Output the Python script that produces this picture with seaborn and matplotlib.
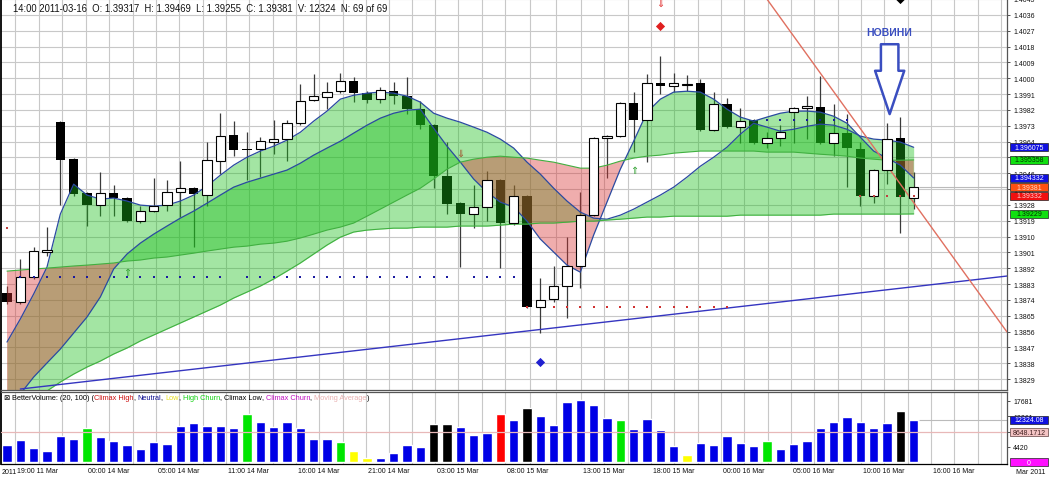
import numpy as np
import pandas as pd
import matplotlib
matplotlib.use('Agg')
import matplotlib.pyplot as plt
import matplotlib.transforms as mtrans
from matplotlib.patches import Rectangle
from matplotlib.offsetbox import TextArea, HPacker, AnchoredOffsetbox
import seaborn as sns

sns.set_theme(style='white')
plt.rcParams['font.family'] = ['Liberation Sans Narrow', 'Liberation Sans', 'DejaVu Sans']

# ---- hourly candles, 69 bars ----
opens = [1.38779, 1.38728, 1.38870, 1.39015, 1.39750, 1.39540, 1.39347, 1.39279, 1.39347, 1.39319,
         1.39188, 1.39245, 1.39279, 1.39353, 1.39375, 1.39336, 1.39529, 1.39676, 1.39597, 1.39597,
         1.39637, 1.39654, 1.39744, 1.39875, 1.39892, 1.39926, 1.39983, 1.39915, 1.39881, 1.39926,
         1.39898, 1.39824, 1.39733, 1.39444, 1.39290, 1.39228, 1.39268, 1.39421, 1.39177, 1.39330,
         1.38700, 1.38745, 1.38819, 1.38933, 1.39222, 1.39659, 1.39671, 1.39858, 1.39762, 1.39972,
         1.39955, 1.39963, 1.39972, 1.39705, 1.39852, 1.39722, 1.39762, 1.39631, 1.39659, 1.39807,
         1.39830, 1.39835, 1.39631, 1.39688, 1.39597, 1.39330, 1.39478, 1.39659, 1.39317]
highs = [1.38819, 1.38972, 1.39040, 1.39154, 1.39756, 1.39546, 1.39353, 1.39466, 1.39392, 1.39324,
         1.39273, 1.39432, 1.39421, 1.39529, 1.39381, 1.39637, 1.39801, 1.39756, 1.39693, 1.39665,
         1.39762, 1.39762, 1.39966, 1.40023, 1.39977, 1.40028, 1.40006, 1.39926, 1.39949, 1.39977,
         1.40006, 1.39869, 1.39739, 1.39637, 1.39296, 1.39392, 1.39472, 1.39427, 1.39392, 1.39336,
         1.38864, 1.38933, 1.39097, 1.39353, 1.39665, 1.39676, 1.39864, 1.39921, 1.40023, 1.40125,
         1.40028, 1.40017, 1.39994, 1.39921, 1.39886, 1.39830, 1.39767, 1.39693, 1.39733, 1.39835,
         1.39898, 1.40011, 1.39852, 1.39796, 1.39637, 1.39483, 1.39744, 1.39779, 1.39469]
lows = [1.38717, 1.38717, 1.38858, 1.38989, 1.39279, 1.39330, 1.39160, 1.39216, 1.39216, 1.39182,
        1.39177, 1.39239, 1.39245, 1.39211, 1.39040, 1.39273, 1.39455, 1.39557, 1.39421, 1.39438,
        1.39568, 1.39529, 1.39733, 1.39869, 1.39824, 1.39915, 1.39864, 1.39858, 1.39858, 1.39852,
        1.39796, 1.39710, 1.39375, 1.39228, 1.38927, 1.39148, 1.39188, 1.38921, 1.39165, 1.38694,
        1.38552, 1.38728, 1.38637, 1.38808, 1.39216, 1.39432, 1.39665, 1.39580, 1.39523, 1.39909,
        1.39921, 1.39926, 1.39699, 1.39699, 1.39716, 1.39631, 1.39625, 1.39603, 1.39614, 1.39631,
        1.39654, 1.39625, 1.39557, 1.39381, 1.39273, 1.39290, 1.39398, 1.39120, 1.39255]
closes = [1.38728, 1.38870, 1.39018, 1.39023, 1.39534, 1.39341, 1.39279, 1.39347, 1.39319, 1.39188,
          1.39245, 1.39273, 1.39353, 1.39375, 1.39341, 1.39534, 1.39671, 1.39591, 1.39591, 1.39642,
          1.39654, 1.39744, 1.39869, 1.39898, 1.39921, 1.39983, 1.39915, 1.39875, 1.39932, 1.39898,
          1.39824, 1.39733, 1.39444, 1.39285, 1.39228, 1.39268, 1.39421, 1.39177, 1.39330, 1.38700,
          1.38739, 1.38819, 1.38933, 1.39222, 1.39659, 1.39671, 1.39858, 1.39762, 1.39972, 1.39955,
          1.39972, 1.39966, 1.39705, 1.39852, 1.39722, 1.39756, 1.39631, 1.39659, 1.39693, 1.39830,
          1.39841, 1.39631, 1.39688, 1.39603, 1.39330, 1.39478, 1.39654, 1.39324, 1.39381]

# ---- ribbon lines (two fast, two slow) ----
line_a = [1.38501, 1.38632, 1.38774, 1.38927, 1.39228, 1.39398, 1.39336, 1.39313, 1.39319, 1.39302,
          1.39279, 1.39273, 1.39279, 1.39302, 1.39336, 1.39387, 1.39449, 1.39506, 1.39551, 1.39586,
          1.39614, 1.39648, 1.39693, 1.39756, 1.39813, 1.39881, 1.39903, 1.39915, 1.39921, 1.39915,
          1.39898, 1.39864, 1.39801, 1.39773, 1.39750, 1.39722, 1.39693, 1.39654, 1.39603, 1.39523,
          1.39455, 1.39375, 1.39302, 1.39239, 1.39205, 1.39199, 1.39222, 1.39256, 1.39296, 1.39336,
          1.39381, 1.39438, 1.39500, 1.39551, 1.39608, 1.39682, 1.39744, 1.39722, 1.39699, 1.39710,
          1.39727, 1.39739, 1.39733, 1.39710, 1.39671, 1.39654, 1.39648, 1.39637, 1.396075]
line_b = [1.38064, 1.38206, 1.38302, 1.38382, 1.38461, 1.38552, 1.38643, 1.38757, 1.38916, 1.39001,
          1.39063, 1.39114, 1.39160, 1.39205, 1.39245, 1.39290, 1.39336, 1.39381, 1.39409, 1.39432,
          1.39455, 1.39478, 1.39517, 1.39563, 1.39603, 1.39642, 1.39688, 1.39733, 1.39773, 1.39801,
          1.39818, 1.39824, 1.39716, 1.39614, 1.39523, 1.39427, 1.39353, 1.39296, 1.39268, 1.39188,
          1.39086, 1.39012, 1.38938, 1.38898, 1.39109, 1.39296, 1.39483, 1.39642, 1.39807, 1.39881,
          1.39921, 1.39926, 1.39921, 1.39881, 1.39824, 1.39779, 1.39756, 1.39779, 1.39801, 1.39813,
          1.39813, 1.39807, 1.39784, 1.39744, 1.39665, 1.39586, 1.39546, 1.39506, 1.394332]
line_c = [1.38904, 1.38910, 1.38916, 1.38921, 1.38927, 1.38933, 1.38938, 1.38944, 1.38950, 1.38961,
          1.38967, 1.38978, 1.38984, 1.38995, 1.39006, 1.39018, 1.39029, 1.39040, 1.39046, 1.39057,
          1.39063, 1.39074, 1.39092, 1.39114, 1.39137, 1.39154, 1.39177, 1.39216, 1.39256, 1.39296,
          1.39336, 1.39375, 1.39427, 1.39483, 1.39523, 1.39540, 1.39551, 1.39557, 1.39551, 1.39546,
          1.39534, 1.39523, 1.39506, 1.39489, 1.39489, 1.39506, 1.39529, 1.39546, 1.39557, 1.39563,
          1.39574, 1.39580, 1.39586, 1.39586, 1.39586, 1.39586, 1.39586, 1.39580, 1.39580, 1.39580,
          1.39574, 1.39568, 1.39563, 1.39557, 1.39546, 1.39540, 1.39534, 1.39534, 1.395358]
line_d = [1.37950, 1.38064, 1.38149, 1.38223, 1.38274, 1.38319, 1.38359, 1.38393, 1.38433, 1.38467,
          1.38507, 1.38541, 1.38575, 1.38609, 1.38643, 1.38677, 1.38711, 1.38751, 1.38785, 1.38819,
          1.38859, 1.38904, 1.38950, 1.39001, 1.39052, 1.39097, 1.39126, 1.39137, 1.39143, 1.39148,
          1.39148, 1.39154, 1.39154, 1.39154, 1.39160, 1.39160, 1.39160, 1.39165, 1.39171, 1.39171,
          1.39177, 1.39177, 1.39182, 1.39188, 1.39188, 1.39194, 1.39199, 1.39205, 1.39211, 1.39211,
          1.39216, 1.39216, 1.39216, 1.39216, 1.39216, 1.39222, 1.39222, 1.39222, 1.39222, 1.39222,
          1.39222, 1.39222, 1.39228, 1.39228, 1.39228, 1.39228, 1.39228, 1.39228, 1.39229]

# ---- dotted support / resistance levels ----
blue_dots_low = [1, 2, 3, 4, 5, 6, 7, 8, 9, 10, 11, 12, 13, 14, 15, 16, 18, 19, 20, 21, 22, 23, 24,
                 25, 26, 27, 28, 29, 30, 31, 32, 33, 35, 36, 37, 38]
blue_level_low = 1.38873
blue_dots_high = [57, 58, 59, 60, 61, 62, 63]
blue_level_high = 1.39762
red_dots_low = [39, 41, 42, 43, 44, 45, 46, 47, 48, 49, 50, 51, 52, 53, 54]
red_level_low = 1.38700
red_dots_high = [0, 64, 65, 66, 67, 68]
red_level_high = [1.39148, 1.39330, 1.39330, 1.39330, 1.39330, 1.39330]

# signals
up_arrows = [(9, 1.38898), (47, 1.39478)]
down_arrows = [(34, 1.39574, '#a0522d'), (49, 1.40426, '#e03030')]
diamonds = [(49, 1.40295, '#e02020'), (40, 1.38387, '#2020d0'), (67, 1.40449, 'black')]

# trendlines (bar index, price)
blue_trend_x = [1.0, 75.0]
blue_trend_y = [1.38234, 1.38876]
red_trend_x = [57.0, 75.0]
red_trend_y = [1.40449, 1.38558]

# right-axis value tags
price_tags = [(1.396075, '1.396075', '#1010e0', 'white'),
              (1.395358, '1.395358', '#10e010', '#003300'),
              (1.394332, '1.394332', '#1010e0', 'white'),
              (1.39381, '1.39381', '#ff5010', '#ffd8c8'),
              (1.39332, '1.39332', '#f01010', '#ffd0d0'),
              (1.39229, '1.39229', '#10e010', '#003300')]

# ---- BetterVolume ----
volume = [5070, 6510, 4030, 3250, 7660, 6710, 9880, 7370, 6050, 5070, 3740, 5760, 5360, 10540,
          11230, 10370, 10540, 9880, 13910, 11520, 10080, 11520, 9880, 6710, 6710, 5760, 3170, 1150,
          1240, 2680, 4900, 4410, 11030, 11030, 10080, 7950, 8440, 13910, 12180, 15730, 13250, 10740,
          17280, 18030, 16590, 12760, 12100, 9590, 12560, 9220, 4610, 2020, 5650, 5070, 7570, 5650,
          4780, 6130, 3740, 5270, 6220, 9880, 11610, 12960, 11610, 9880, 11230, 14860, 12324]
N, HC, LO, CL, CH = 'Neutral', 'High Churn', 'Low', 'Climax Low', 'Climax High'
vol_kind = [N, N, N, N, N, N, HC, N, N, N, N, N, N, N, N, N, N, N, HC, N, N, N, N, N, N, HC, LO, LO,
            N, N, N, N, CL, CL, N, N, N, CH, N, CL, N, N, N, N, N, N, HC, N, N, N, N, LO, N, N, N,
            N, N, HC, N, N, N, N, N, N, N, N, N, CL, N]
vol_ma = 8648.1712
vol_palette = {N: '#0000e6', HC: '#00e600', LO: '#ffff00', CL: 'black', CH: '#ff0000'}

tick_pos = [0.60, 5.925, 11.175, 16.425, 21.675, 26.925, 32.1, 37.35, 43.05, 48.3, 53.55, 58.8,
            64.05, 69.3, 74.55]
tick_labels = ['19:00 11 Mar', '00:00 14 Mar', '05:00 14 Mar', '11:00 14 Mar', '16:00 14 Mar',
               '21:00 14 Mar', '03:00 15 Mar', '08:00 15 Mar', '13:00 15 Mar', '18:00 15 Mar',
               '00:00 16 Mar', '05:00 16 Mar', '10:00 16 Mar', '16:00 16 Mar', '']

o, h, l, c = map(np.array, (opens, highs, lows, closes))
a, b, cc, d = map(np.array, (line_a, line_b, line_c, line_d))
bars = np.arange(len(o))

fig = plt.figure(figsize=(10.49, 4.81), dpi=100)
ax = fig.add_axes([1 / 1049, 90 / 481, 1006 / 1049, 391 / 481])
axv = fig.add_axes([1 / 1049, 16 / 481, 1006 / 1049, 72 / 481])

GREEN = (0.1, 0.75, 0.1)
PINK = (0.85, 0.2, 0.2)
GRID = '#c8c8c8'

# candles: down bodies under the ribbons, up bodies above
ax.vlines(bars, l, h, color='#3a3a3a', lw=0.9, zorder=1)
up = c >= o
body_lo = np.minimum(o, c)
body_h = np.maximum(np.abs(c - o), 0.00003)
ax.bar(bars[~up], body_h[~up], bottom=body_lo[~up], width=0.7, color='black', lw=0, zorder=1.5)
ax.bar(bars[up], body_h[up], bottom=body_lo[up], width=0.7, color='white', edgecolor='black',
       lw=0.8, zorder=4)

# ribbons
ax.fill_between(bars, a, d, where=a >= d, interpolate=True, color=GREEN, alpha=0.4, lw=0, zorder=2)
ax.fill_between(bars, a, d, where=a < d, interpolate=True, color=PINK, alpha=0.4, lw=0, zorder=2)
ax.fill_between(bars, b, cc, where=b >= cc, interpolate=True, color=GREEN, alpha=0.4, lw=0, zorder=2.1)
ax.fill_between(bars, b, cc, where=b < cc, interpolate=True, color=PINK, alpha=0.4, lw=0, zorder=2.1)
sns.lineplot(x=bars, y=a, color='#2a4aa0', lw=0.9, ax=ax, zorder=3)
sns.lineplot(x=bars, y=b, color='#2a4aa0', lw=0.9, ax=ax, zorder=3)
sns.lineplot(x=bars, y=cc, color='#40b040', lw=0.8, ax=ax, zorder=3)
sns.lineplot(x=bars, y=d, color='#40b040', lw=0.8, ax=ax, zorder=3)

# trendlines
sns.lineplot(x=blue_trend_x, y=blue_trend_y, color='#3535c0', lw=1, ax=ax, sort=False, zorder=3)
sns.lineplot(x=red_trend_x, y=red_trend_y, color='#e07060', lw=1, ax=ax, sort=False, zorder=3)

# dotted levels
sns.scatterplot(x=blue_dots_low, y=[blue_level_low] * len(blue_dots_low), marker='s', s=3,
                color='#1a1aa0', linewidth=0, ax=ax, zorder=5)
sns.scatterplot(x=blue_dots_high, y=[blue_level_high] * len(blue_dots_high), marker='s', s=3,
                color='#1a1aa0', linewidth=0, ax=ax, zorder=5)
sns.scatterplot(x=red_dots_low, y=[red_level_low] * len(red_dots_low), marker='s', s=3,
                color='#d03030', linewidth=0, ax=ax, zorder=5)
sns.scatterplot(x=red_dots_high, y=red_level_high, marker='s', s=3,
                color='#c04040', linewidth=0, ax=ax, zorder=5)

for xi, yi in up_arrows:
    ax.text(xi, yi, '\u21d1', color='#30a030', fontsize=7, ha='center', va='center',
            family='DejaVu Sans', zorder=6)
for xi, yi, col in down_arrows:
    ax.text(xi, yi, '\u21d3', color=col, fontsize=7, ha='center', va='center',
            family='DejaVu Sans', zorder=6)
for xi, yi, col in diamonds:
    ax.scatter([xi], [yi], marker='D', s=22, color=col, linewidth=0, zorder=6)

# current price line
ax.hlines(c[-1], 68.4, 75.0, color='#bbbbbb', lw=0.8, zorder=1)

# news annotation
ax.annotate('', xy=(66.2, 1.39796), xytext=(66.2, 1.40193),
            arrowprops=dict(arrowstyle='simple,head_length=2.6,head_width=1.75,tail_width=1.05',
                            fc='white', ec='#3a4ec0', lw=1.8, shrinkA=0, shrinkB=0), zorder=7)
ax.text(66.2, 1.40261, 'НОВИНИ', color='#3a4ec0', fontsize=7.5, fontweight='bold',
        family=['Liberation Sans', 'DejaVu Sans'], ha='center', va='center', zorder=7)

# axes styling
price_ticks = np.round(1.3829 + 0.0009 * np.arange(25), 4)
minor_pos = []
for m0, m1 in zip(tick_pos[:-1], tick_pos[1:]):
    minor_pos += [m0 + (m1 - m0) / 3, m0 + 2 * (m1 - m0) / 3]

for axx in (ax, axv):
    axx.set_xlim(-0.45, 75.0)
    axx.set_xticks(tick_pos)
    axx.set_xticks(minor_pos, minor=True)
    axx.grid(True, which='both', axis='x', color=GRID, lw=0.8)
    axx.set_axisbelow(True)
    axx.yaxis.tick_right()
    axx.set_xlabel('')
    axx.set_ylabel('')
    for side in ('left', 'right', 'top', 'bottom'):
        axx.spines[side].set_visible(True)
        axx.spines[side].set_linewidth(0.9)
        axx.spines[side].set_color('#555555')
    axx.spines['left'].set_color('black')
    axx.spines['left'].set_linewidth(1.3)

ax.spines['top'].set_visible(False)
ax.set_ylim(1.382285, 1.404486)
ax.set_yticks(price_ticks)
ax.set_yticklabels([f'{t:.4f}' for t in price_ticks])
ax.grid(True, which='major', axis='y', color=GRID, lw=0.8)
ax.tick_params(axis='x', which='both', length=0, labelbottom=False)
ax.tick_params(axis='y', which='major', direction='out', length=2.5, width=0.6, color='#333333',
               pad=2, labelsize=5, labelcolor='#111111')

# volume panel
vol_df = pd.DataFrame({'bar': bars, 'volume': volume, 'kind': vol_kind})
sns.barplot(data=vol_df, x='bar', y='volume', hue='kind', palette=vol_palette, dodge=False,
            native_scale=True, width=0.7, saturation=1, errorbar=None, legend=False, ax=axv,
            zorder=2)
axv.axhline(vol_ma, color='#e8b8b8', lw=0.9, zorder=3)
axv.hlines(volume[-1], 68.4, 75.0, color='#bbbbbb', lw=0.8, zorder=1)
axv.set_xlim(-0.45, 75.0)
axv.set_ylim(-490, 20246)
axv.set_yticks([4420, 8840, 13261, 17681])
axv.set_yticklabels(['4420', '8840', '13261', '17681'])
axv.set_xlabel('')
axv.set_ylabel('')
axv.spines['bottom'].set_color('black')
axv.tick_params(axis='y', direction='out', length=2.5, width=0.6, color='#333333', pad=2,
                labelsize=5, labelcolor='#111111')
axv.set_xticks(tick_pos)
axv.set_xticklabels(tick_labels)
axv.tick_params(axis='x', which='both', direction='out', length=11.5, width=0.8, color=GRID,
                pad=-9.5, labelsize=5, labelcolor='#111111')
shift = mtrans.ScaledTranslation(1.5 / 72, 0, fig.dpi_scale_trans)
for lab in axv.get_xticklabels():
    lab.set_horizontalalignment('left')
    lab.set_transform(lab.get_transform() + shift)

# legend line of the volume indicator
parts = [('\u22a0 ', 'black'), ('BetterVolume: (20, 100) (', 'black'), ('Climax High', '#cc1010'),
         (', ', 'black'), ('Neutral', '#101090'), (', ', 'black'), ('Low', '#e8e020'),
         (', ', 'black'), ('High Churn', '#10d010'), (', ', 'black'), ('Climax Low', 'black'),
         (', ', 'black'), ('Climax Churn', '#c010c0'), (', ', 'black'),
         ('Moving Average', '#e8b0b0'), (')', 'black')]
boxes = [TextArea(t, textprops=dict(color=col, fontsize=5.3)) for t, col in parts]
pack = HPacker(children=boxes, align='baseline', pad=0, sep=0)
anch = AnchoredOffsetbox(loc='upper left', child=pack, pad=0, borderpad=0, frameon=False,
                         bbox_to_anchor=(0.003, 0.975), bbox_transform=axv.transAxes)
axv.add_artist(anch)

# value tags right of the axes
trans_p = mtrans.blended_transform_factory(ax.transAxes, ax.transData)
hh = 8 * 0.00005678
for val, txt, fc, tc in price_tags:
    ax.add_patch(Rectangle((1.0025, val - hh / 2), 0.0385, hh, transform=trans_p, fc=fc,
                           ec='#202020', lw=0.5, clip_on=False, zorder=8))
    ax.text(1.0025 + 0.0193, val, txt, transform=trans_p, ha='center', va='center', fontsize=5,
            color=tc, clip_on=False, zorder=9)

trans_v = mtrans.blended_transform_factory(axv.transAxes, axv.transData)
vh = 8 * 288
vol_tags = [(volume[-1], '12324.08', '#1010e0', 'white', '#202020'),
            (vol_ma, '8648.1712', '#f4c4c4', '#402020', '#604040'),
            (0, '0', '#ff10ff', 'white', '#202020')]
for val, txt, fc, tc, ec in vol_tags:
    axv.add_patch(Rectangle((1.0025, val - vh / 2), 0.0385, vh, transform=trans_v, fc=fc,
                            ec=ec, lw=0.5, clip_on=False, zorder=8))
    axv.text(1.0025 + 0.0193, val, txt, transform=trans_v, ha='center', va='center', fontsize=5,
             color=tc, clip_on=False, zorder=9)

# header and date captions
fig.text(13 / 1049, 1 - 9 / 481,
         '14:00 2011-03-16  O: 1.39317  H: 1.39469  L: 1.39255  C: 1.39381  V: 12324  N: 69 of 69',
         fontsize=6.85, color='#111111', va='center', ha='left')
fig.text(1.5 / 1049, 8 / 481, '2011', fontsize=5, color='#111111', va='center', ha='left')
fig.text(1031 / 1049, 8 / 481, 'Mar 2011', fontsize=5, color='#111111', va='center', ha='center')

fig.savefig('out.png', dpi=100, facecolor='white')
